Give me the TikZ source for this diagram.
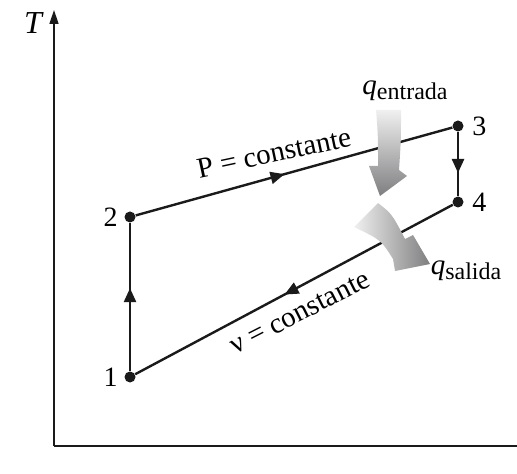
\documentclass[tikz,border=0pt]{standalone}
\usepackage{fontspec}
\setmainfont{Liberation Serif}
\usetikzlibrary{positioning,arrows.meta,decorations.markings}
\definecolor{linea}{HTML}{1A1A1A}
\definecolor{calorclaro}{HTML}{F0F0F0}
\definecolor{calorosc}{HTML}{7E7E80}

\newcommand{\qcalor}[1]{\textit{q}\raisebox{-2.5pt}{\fontsize{12}{12}\selectfont #1}}

\begin{document}
\begin{tikzpicture}[x=0.5pt, y=-0.5pt, font=\fontsize{14.5}{16}\selectfont,
    punto/.style={circle, fill=linea, inner sep=0pt, minimum size=5.5pt},
    estado/.style={inner sep=0pt, font=\fontsize{14}{16}\selectfont},
    eje/.style={draw=linea, line width=0.8pt},
    proceso/.style={draw=linea, line width=1.2pt},
    flechamedia/.style={postaction={decorate, decoration={markings,
        mark=at position #1 with {\arrow{Triangle[length=7pt,width=6pt]}}}}}]
        \useasboundingbox (0,0) rectangle (517,474);
        % ejes
        \coordinate (origen) at (54,446);
        \coordinate (ejeT) at (54,10);
        \coordinate (ejeS) at (517,446);
        \draw[eje, -{Triangle[length=7pt,width=4.5pt]}] (origen) -- (ejeT);
        \draw[eje] (origen) -- (ejeS);
        \node[font=\fontsize{16}{16}\selectfont] (tlabel) at (34,23) {\textit{T}};
        % estados
        \node[punto] (p1) at (130,377) {};
        \node[punto] (p2) at (130,217) {};
        \node[punto] (p3) at (458,126) {};
        \node[punto] (p4) at (458,202) {};
        \node[estado, left=3pt of p1] (n1) {1};
        \node[estado, left=3pt of p2] (n2) {2};
        \node[estado, right=4pt of p3] (n3) {3};
        \node[estado, right=4pt of p4] (n4) {4};
        % ciclo
        \draw[proceso, flechamedia=0.56] (p1) -- (p2);
        \draw[proceso, flechamedia=0.47] (p2) -- (p3);
        \draw[proceso, flechamedia=0.64] (p3) -- (p4);
        \draw[proceso, flechamedia=0.53] (p4) -- (p1);
        \node[rotate=12] (pconst) at (274,153) {P = constante};
        \node[rotate=27] (vconst) at (300,313) {ν = constante};
        % calor
        \shade[top color=calorclaro, bottom color=calorosc]
          (376,110) .. controls (378,135) .. (378,166) -- (369,166) -- (380,196)
          -- (407,176) -- (399,170) .. controls (401,140) .. (401,110) -- cycle;
        \shade[left color=calorclaro, right color=calorosc]
          (378,203) .. controls (392,214) .. (405,239) -- (413,235) -- (430,264)
          -- (395,271) -- (393,259) .. controls (381,240) .. (354,227) -- cycle;
        \node (qent) at (405,91) {\qcalor{entrada}};
        \node (qsal) at (466,271) {\qcalor{salida}};
      \end{tikzpicture}
\end{document}
